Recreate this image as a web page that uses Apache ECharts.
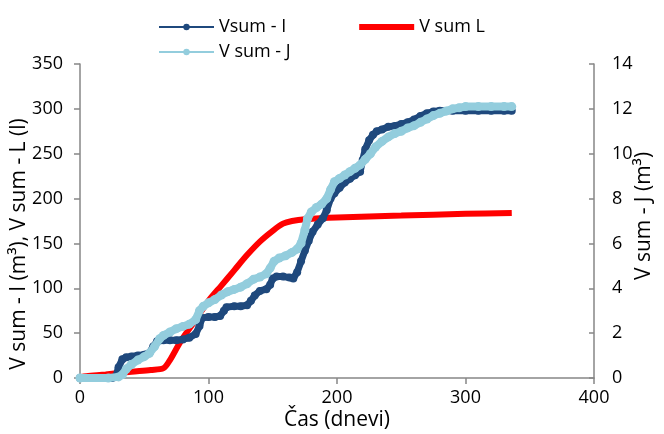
<!DOCTYPE html>
<html>
<head>
<meta charset="utf-8">
<script src="https://cdn.jsdelivr.net/npm/echarts@6/dist/echarts.min.js"></script>
<style>html,body{margin:0;padding:0;background:#fff}#c{width:664px;height:434px}</style>
</head>
<body>
<div id="c"></div>
<script>
const xTicks = [0, 100, 200, 300, 400];
const leftTicks = [0, 50, 100, 150, 200, 250, 300, 350];
const rightTicks = [0, 2, 4, 6, 8, 10, 12, 14];

// Vsum - I (m3), left axis
const seriesI = [[0,0],[5,0],[10,0],[15,0],[20,0],[25,0],[28,2],[30,12],[33,21],[36,23],[40,24],[45,25],[50,26],[54,28],[57,35],[60,41],[65,42],[70,42],[75,42],[80,43],[85,45],[90,49],[93,58],[95,67],[100,68],[105,68],[109,69],[112,75],[114,79],[120,80],[125,80],[130,81],[133,86],[136,92],[140,97],[145,99],[148,104],[150,111],[153,113],[158,113],[163,112],[166,111],[169,118],[172,130],[175,142],[178,153],[181,163],[185,171],[189,178],[192,187],[195,200],[198,206],[202,212],[206,218],[210,222],[214,226],[218,230],[220,243],[222,255],[225,265],[228,271],[231,275],[235,277],[240,280],[245,281],[250,283],[255,285],[260,288],[265,292],[270,295],[275,297],[280,298],[290,298],[300,298],[310,298],[320,298],[330,298],[336,298]];

// V sum L (l), left axis
const seriesL = [[0,1],[5,2],[20,4],[40,7],[55,9],[65,11],[70,20],[78,40],[90,65],[100,86],[110,103],[120,120],[130,137],[140,152],[150,164],[158,172],[165,175],[175,177],[200,179],[250,181],[300,183],[336,184]];

// V sum - J (m3), right axis
const seriesJ = [[0,0],[22,0],[30,0.05],[33,0.15],[36,0.4],[40,0.6],[45,0.8],[50,0.95],[54,1.1],[58,1.4],[62,1.75],[65,1.9],[70,2.05],[75,2.2],[80,2.3],[85,2.4],[90,2.6],[93,3.0],[96,3.2],[100,3.35],[105,3.5],[110,3.7],[115,3.85],[120,3.95],[125,4.05],[130,4.2],[135,4.4],[140,4.5],[145,4.65],[148,4.9],[151,5.2],[155,5.35],[160,5.45],[165,5.6],[169,5.75],[172,6.0],[175,6.6],[177,7.1],[180,7.4],[184,7.6],[188,7.75],[192,8.0],[195,8.4],[198,8.75],[202,8.9],[206,9.05],[210,9.2],[214,9.35],[218,9.5],[222,9.75],[226,10.0],[230,10.3],[235,10.55],[240,10.75],[245,10.9],[250,11.0],[255,11.15],[260,11.25],[265,11.4],[270,11.55],[275,11.7],[280,11.8],[285,11.9],[290,12.0],[295,12.05],[300,12.1],[310,12.1],[320,12.1],[330,12.1],[336,12.1]];

const FONT = 'Open Sans';
const axisColor = '#868686';
const txt = { fontFamily: FONT, fontSize: 18, color: '#000' };
const nameTxt = { fontFamily: FONT, fontSize: 21, color: '#000' };

const chart = echarts.init(document.getElementById('c'), null, { renderer: 'canvas' });
chart.setOption({
  animation: false,
  backgroundColor: '#fff',
  legend: [
    { left: 153, top: 13, itemWidth: 55, itemHeight: 8, itemGap: 70, textStyle: txt,
      data: ['Vsum - I', { name: 'V sum L', itemStyle: { opacity: 0 }, lineStyle: { width: 6 } }] },
    { left: 153, top: 38, itemWidth: 55, itemHeight: 8, textStyle: txt,
      data: ['V sum - J'] }
  ],
  grid: { left: 80, right: 70, top: 64, bottom: 56, containLabel: false, outerBoundsMode: 'none' },
  xAxis: {
    type: 'value', min: xTicks[0], max: xTicks[xTicks.length - 1], interval: 100,
    name: 'Čas (dnevi)', nameLocation: 'middle', nameGap: 32, nameMoveOverlap: false,
    nameTextStyle: nameTxt,
    axisLine: { lineStyle: { color: axisColor, width: 1.5 } },
    axisTick: { show: true, length: 6, lineStyle: { color: axisColor, width: 1.5 } },
    axisLabel: Object.assign({ margin: 11 }, txt),
    splitLine: { show: false }
  },
  yAxis: [
    {
      type: 'value', min: leftTicks[0], max: leftTicks[leftTicks.length - 1], interval: 50,
      name: 'V sum - I (m³), V sum - L (l)', nameLocation: 'middle', nameGap: 50, nameMoveOverlap: false,
      nameTextStyle: Object.assign({ padding: [0, 46, 0, 0] }, nameTxt),
      axisLine: { show: true, lineStyle: { color: axisColor, width: 1.5 } },
      axisTick: { show: true, length: 6, lineStyle: { color: axisColor, width: 1.5 } },
      axisLabel: Object.assign({ margin: 17 }, txt),
      splitLine: { show: false }
    },
    {
      type: 'value', min: rightTicks[0], max: rightTicks[rightTicks.length - 1], interval: 2,
      position: 'right',
      name: 'V sum - J (m³)', nameLocation: 'middle', nameGap: 40, nameRotate: 90, nameMoveOverlap: false,
      nameTextStyle: Object.assign({ padding: [0, 0, 0, 10] }, nameTxt),
      axisLine: { show: true, lineStyle: { color: axisColor, width: 1.5 } },
      axisTick: { show: true, inside: true, length: 5, lineStyle: { color: axisColor, width: 1.5 } },
      axisLabel: Object.assign({ margin: 18 }, txt),
      splitLine: { show: false }
    }
  ],
  series: [
    {
      name: 'V sum L', type: 'line', yAxisIndex: 0, data: seriesL,
      symbol: 'none', smooth: 0.3,
      lineStyle: { color: '#FF0000', width: 6 }, itemStyle: { color: '#FF0000' }, z: 2
    },
    {
      name: 'Vsum - I', type: 'line', yAxisIndex: 0, data: seriesI,
      symbol: 'circle', symbolSize: 8, showAllSymbol: true,
      lineStyle: { color: '#1F497D', width: 7 }, itemStyle: { color: '#1F497D' }, z: 3
    },
    {
      name: 'V sum - J', type: 'line', yAxisIndex: 1, data: seriesJ,
      symbol: 'circle', symbolSize: 9, showAllSymbol: true,
      lineStyle: { color: '#93CDDD', width: 8 }, itemStyle: { color: '#93CDDD' }, z: 4
    }
  ]
});
</script>
</body>
</html>
